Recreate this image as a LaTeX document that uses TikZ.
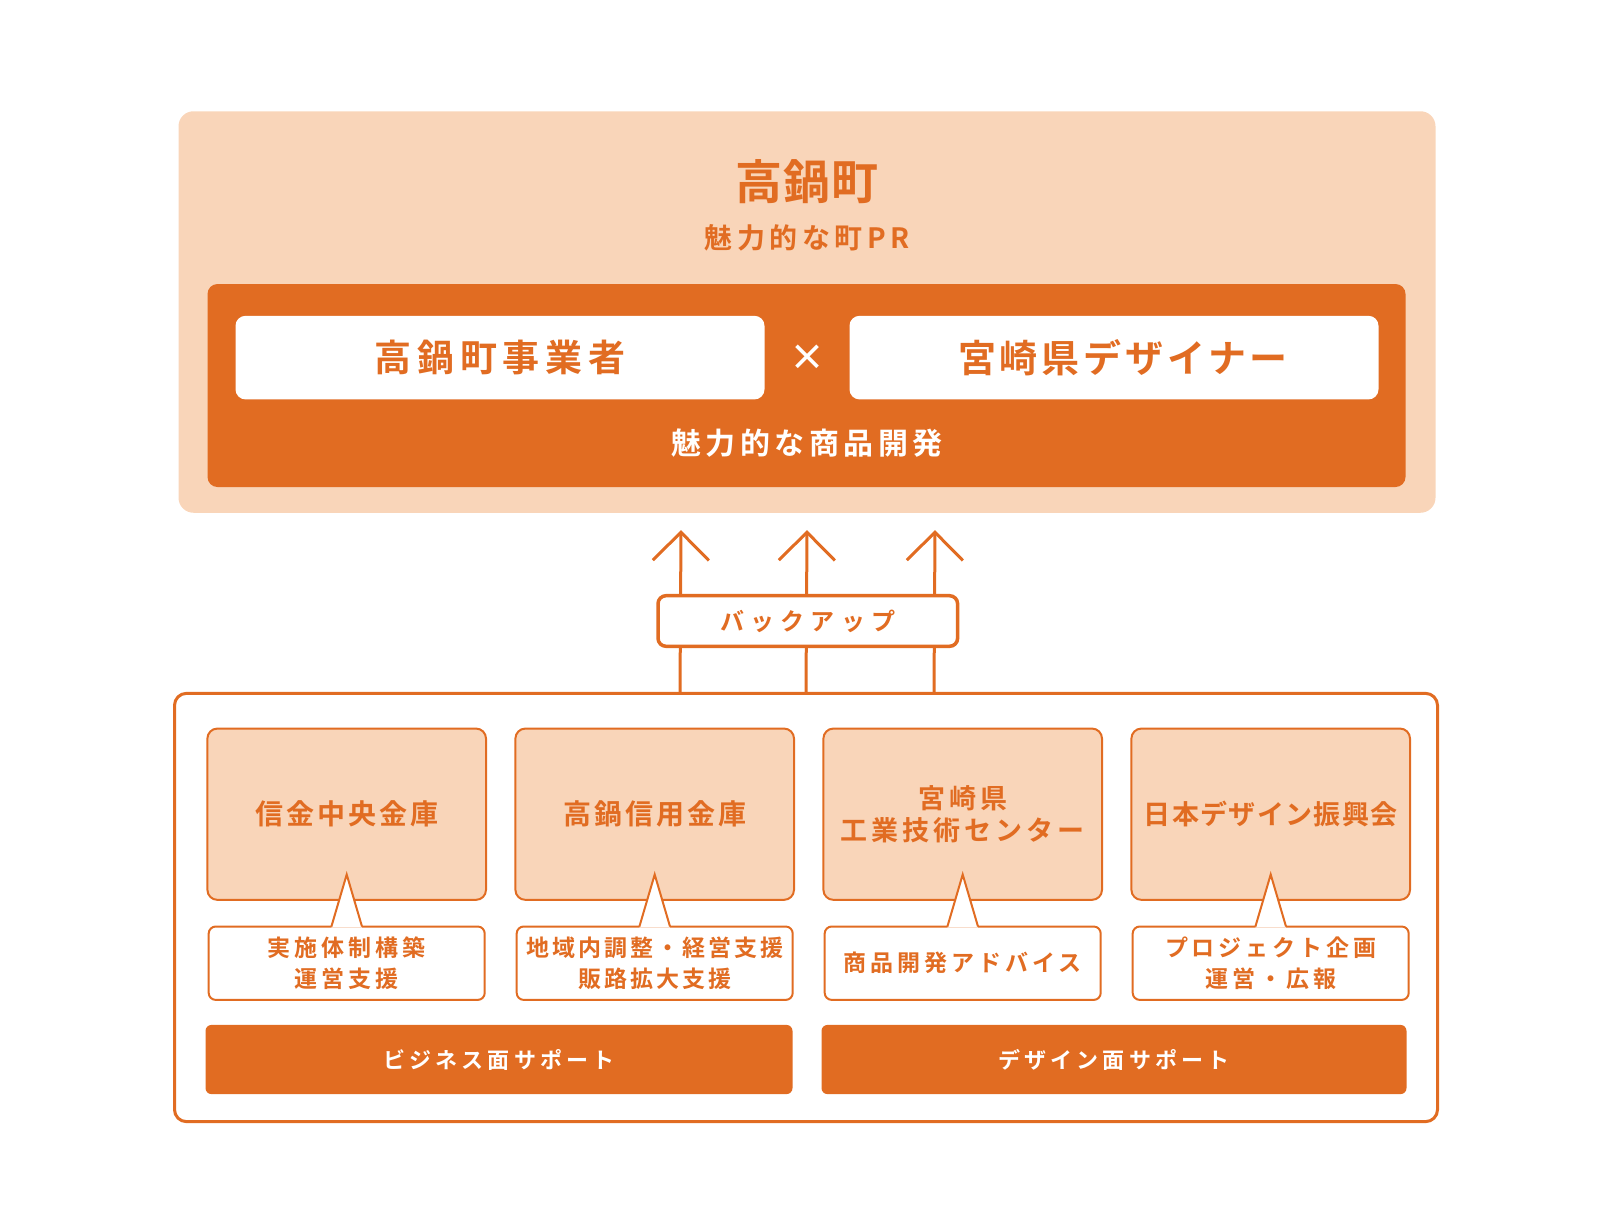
\documentclass[tikz,border=0pt]{standalone}
\usepackage{fontspec}
\setmainfont{Noto Sans CJK JP}[BoldFont={* Bold}]
\usetikzlibrary{positioning,calc,arrows.meta}
\definecolor{takaorange}{HTML}{E16C22}
\definecolor{takapeach}{HTML}{F9D5B9}
% size, line skip, letter spacing
\newcommand{\jpsize}[3]{\fontsize{#1}{#2}\selectfont\bfseries\addfontfeatures{LetterSpace=#3}}

\begin{document}
\begin{tikzpicture}[x=1pt, y=-1pt, thick]
    % Styles
    \tikzstyle{panel} = [rectangle, rounded corners=15pt, fill=takapeach, inner sep=0pt]
    \tikzstyle{band} = [rectangle, rounded corners=10pt, fill=takaorange, inner sep=0pt]
    \tikzstyle{party} = [rectangle, rounded corners=10pt, fill=white, text=takaorange, minimum width=529pt, minimum height=83.6pt, font={\jpsize{37}{40}{16}}]
    \tikzstyle{org} = [rectangle, rounded corners=10pt, draw=takaorange, line width=2pt, fill=takapeach, text=takaorange, minimum width=278.6pt, minimum height=171.3pt, align=center, font={\jpsize{28}{32}{11}}]
    \tikzstyle{role} = [rectangle, rounded corners=7pt, draw=takaorange, line width=2pt, outer sep=0pt, fill=white, text=takaorange, minimum width=276pt, minimum height=73.4pt, align=center, font={\jpsize{23}{31}{17}}]
    \tikzstyle{bar} = [rectangle, rounded corners=6pt, fill=takaorange, text=white, minimum height=69.2pt, font={\jpsize{22}{24}{19}}]
    \tikzstyle{uparrow} = [draw=takaorange, line width=3pt, -{Straight Barb[length=28pt, width=56pt]}]

    \useasboundingbox (0,0) rectangle (1618,1216);

    % Top: town
    \node [panel, minimum width=1257pt, minimum height=401.5pt] (town) at (807,312) {};
    \node [text=takaorange, font={\jpsize{47}{50}{3}}] (townname) at (807,182) {高鍋町};
    \node [text=takaorange, font={\jpsize{28}{30}{16}}] (townpr) at (807,237.5) {魅力的な町PR};
    \node [band, minimum width=1198pt, minimum height=203pt] (dev) at (806.5,385.5) {};
    \node [party] (maker) at (500,357.6) {高鍋町事業者};
    \node [party, right of=maker, node distance=614pt, font={\jpsize{38}{40}{10}}] (designer) {\hspace{18pt}宮崎県デザイナー};
    \node [text=white, font={\jpsize{36}{38}{0}}] (times) at (807,357.6) {×};
    \node [text=white, font={\jpsize{30}{32}{15}}] (devlabel) at (807,442.7) {魅力的な商品開発};

    % Bottom: support
    \node [rectangle, rounded corners=12pt, draw=takaorange, line width=3pt, minimum width=1263pt, minimum height=428.3pt] (support) at (806,907.5) {};
    \node [org] (shinkin) at (346.7,814.2) {信金中央金庫};
    \node [org, right of=shinkin, node distance=308pt] (takashin) {高鍋信用金庫};
    \node [org, right of=takashin, node distance=308pt, font={\jpsize{27}{32}{15}}] (kougi) {宮崎県\\工業技術センター};
    \node [org, right of=kougi, node distance=308pt, font={\jpsize{27}{32}{5}}] (jidpo) {日本デザイン振興会};

    \node [role, below of=shinkin, node distance=149pt] (shinkin-role) {実施体制構築\\運営支援};
    \node [role, below of=takashin, node distance=149pt, font={\jpsize{23}{31}{13}}] (takashin-role) {地域内調整・経営支援\\販路拡大支援};
    \node [role, below of=kougi, node distance=149pt] (kougi-role) {商品開発アドバイス};
    \node [role, below of=jidpo, node distance=149pt] (jidpo-role) {プロジェクト企画\\運営・広報};

    % Callout tails
    \foreach \o in {shinkin,takashin,kougi,jidpo} {
        \fill [white] ($(\o-role.north)+(-15.3,1.2)$) -- ($(\o-role.north)+(0,-52)$) -- ($(\o-role.north)+(15.3,1.2)$) -- cycle;
        \draw [takaorange, line width=2pt] ($(\o-role.north)+(-15.3,0)$) -- ($(\o-role.north)+(0,-52)$) -- ($(\o-role.north)+(15.3,0)$);
    }

    \node [bar, minimum width=587pt] (bizbar) at (499,1059.5) {ビジネス面サポート};
    \node [bar, minimum width=585pt] (designbar) at (1114,1059.5) {デザイン面サポート};

    % Connections
    \foreach \dx in {-126,0,128}
        \draw [uparrow] ($(support.north)+(\dx,0)$) -- ($(town.south)+(\dx,17)$);
    \node [rectangle, rounded corners=8pt, draw=takaorange, line width=3.5pt, fill=white, text=takaorange, minimum width=299.6pt, minimum height=50.6pt, font={\jpsize{24}{26}{26}}] (backup) at (807.8,621) {バックアップ};
\end{tikzpicture}
\end{document}
